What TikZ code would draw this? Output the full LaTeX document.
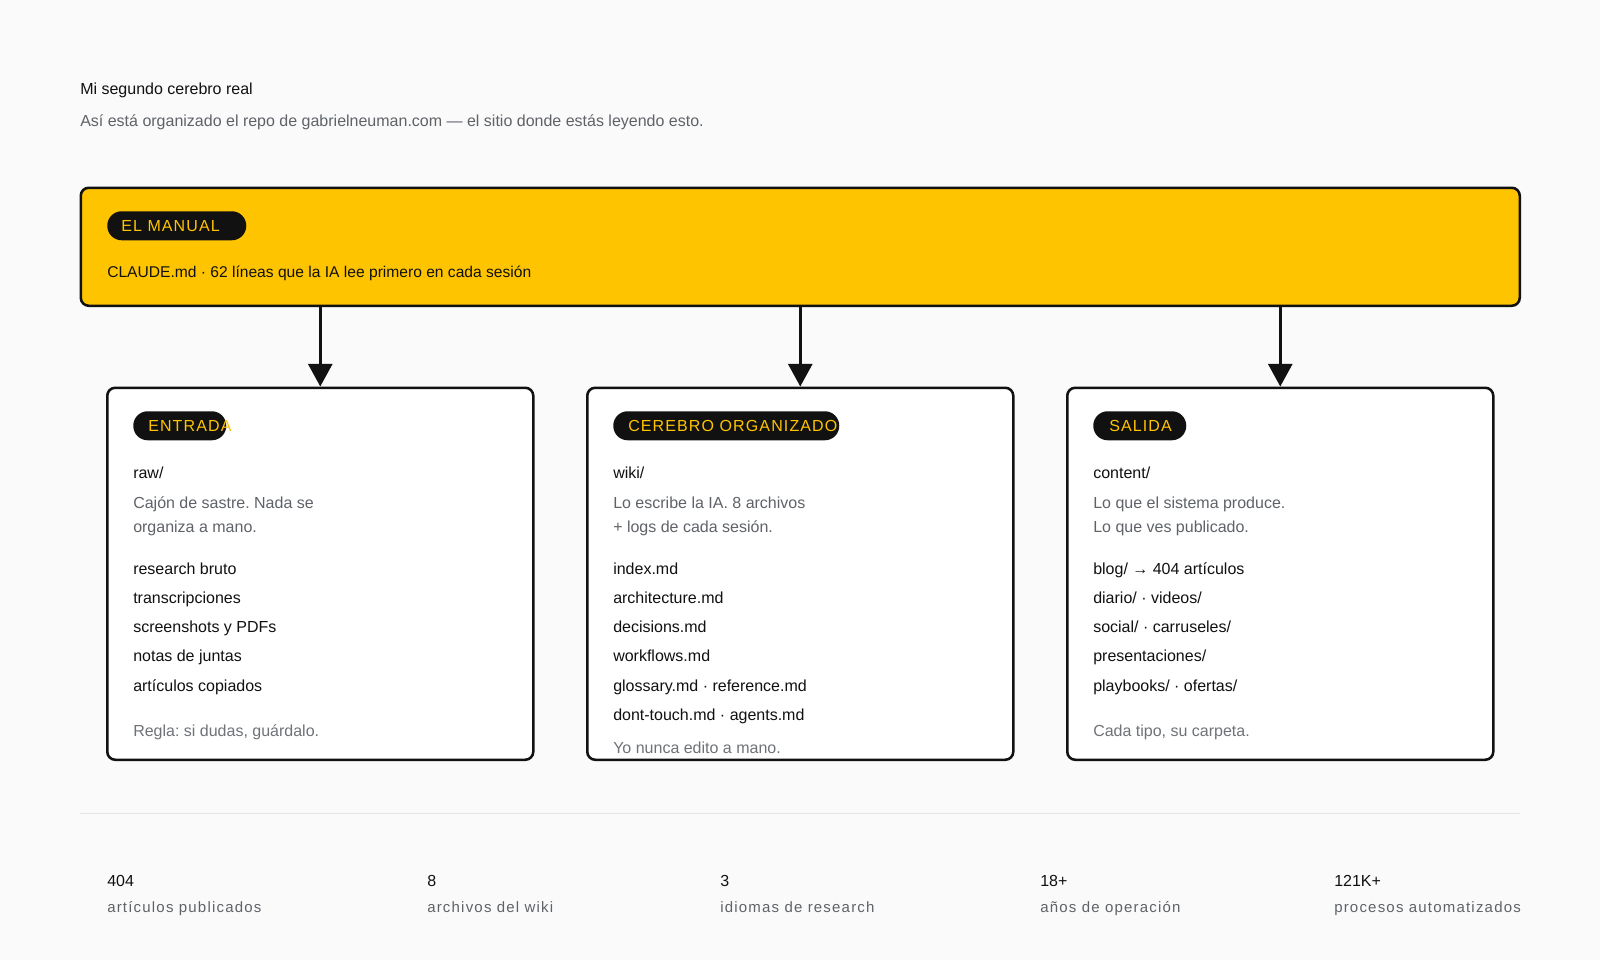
\documentclass[tikz,border=0pt]{standalone}
\usepackage{fontspec}
\setmainfont{Liberation Sans}
\usetikzlibrary{arrows.meta}
\definecolor{bg}{HTML}{FAFAFA}
\definecolor{ink}{HTML}{111111}
\definecolor{yel}{HTML}{FFC400}
\definecolor{muted}{HTML}{5F6368}
\definecolor{faint}{HTML}{6F7378}
\definecolor{rulec}{HTML}{E6E6E6}
\frenchspacing
\begin{document}
\frenchspacing
\begin{tikzpicture}[x=0.75pt,y=-0.75pt,
  txt/.style={anchor=base west, inner sep=0pt, text=ink, font=\fontsize{12}{14}\selectfont},
  desc/.style={txt, text=muted},
  note/.style={txt, text=faint},
  subt/.style={txt, text=muted, font=\fontsize{12}{14}\selectfont},
  stat/.style={txt, text=muted, font=\fontsize{11.25}{13}\selectfont\addfontfeature{LetterSpace=8}},
  pill/.style={fill=ink, draw=none, rounded corners=10.8pt, inner sep=0pt, minimum height=21.75pt, anchor=north west},
  pilltxt/.style={anchor=base west, inner sep=0pt, text=yel, font=\fontsize{12}{14}\selectfont\addfontfeature{LetterSpace=7}},
  box/.style={draw=ink, line width=1.9pt, rounded corners=6pt, fill=white, inner sep=0pt, anchor=north west, minimum width=319.5pt, minimum height=279pt},
  arr/.style={draw=ink, line width=2.25pt, -{Triangle[width=18pt,length=17pt]}}
]
\fill[bg] (0,0) rectangle (1600,960);
\useasboundingbox (0,0) rectangle (1600,960);

% header
\node[txt] (title) at (80,94) {Mi segundo cerebro real};
\node[subt] (sub) at (80,126.5) {Así está organizado el repo de gabrielneuman.com — el sitio donde estás leyendo esto.};

% top box
\node[draw=ink, line width=1.9pt, rounded corners=6pt, fill=yel, inner sep=0pt, anchor=north west, minimum width=1079.25pt, minimum height=88.5pt] (top) at (79.5,186.5) {};
\node[pill, minimum width=104.25pt] (p0) at (107,211) {};
\node[pilltxt] (p0t) at (121,231) {EL MANUAL};
\node[txt, font=\fontsize{11.7}{14}\selectfont] (claude) at (107,277) {CLAUDE.md · 62 líneas que la IA lee primero en cada sesión};

% three boxes
\node[box] (b1) at (106,386.5) {};
\node[box] (b2) at (586,386.5) {};
\node[box] (b3) at (1066,386.5) {};

\draw[arr] (top.south -| b1.north) -- (b1.north);
\draw[arr] (top.south -| b2.north) -- (b2.north);
\draw[arr] (top.south -| b3.north) -- (b3.north);

% box 1
\node[pill, minimum width=69.75pt] (p1) at (133,411) {};
\node[pilltxt] (p1t) at (148,431) {ENTRADA};
\node[txt] (r1) at (133,478) {raw/};
\node[desc] (d1a) at (133,508) {Cajón de sastre. Nada se};
\node[desc] (d1b) at (133,532) {organiza a mano.};
\node[txt] (i1a) at (133,574) {research bruto};
\node[txt] (i1b) at (133,603.3) {transcripciones};
\node[txt] (i1c) at (133,632.6) {screenshots y PDFs};
\node[txt] (i1d) at (133,661.9) {notas de juntas};
\node[txt] (i1e) at (133,691.2) {artículos copiados};
\node[note] (n1) at (133,736.7) {Regla: si dudas, guárdalo.};

% box 2
\node[pill, minimum width=169.5pt] (p2) at (613,411) {};
\node[pilltxt] (p2t) at (628,431) {CEREBRO ORGANIZADO};
\node[txt] (r2) at (613,478) {wiki/};
\node[desc] (d2a) at (613,508) {Lo escribe la IA. 8 archivos};
\node[desc] (d2b) at (613,532) {+ logs de cada sesión.};
\node[txt] (i2a) at (613,574) {index.md};
\node[txt] (i2b) at (613,603.3) {architecture.md};
\node[txt] (i2c) at (613,632.6) {decisions.md};
\node[txt] (i2d) at (613,661.9) {workflows.md};
\node[txt] (i2e) at (613,691.2) {glossary.md · reference.md};
\node[txt] (i2f) at (613,720.5) {dont-touch.md · agents.md};
\node[note] (n2) at (613,753.3) {Yo nunca edito a mano.};

% box 3
\node[pill, minimum width=69.75pt] (p3) at (1093,411) {};
\node[pilltxt] (p3t) at (1109,431) {SALIDA};
\node[txt] (r3) at (1093,478) {content/};
\node[desc] (d3a) at (1093,508) {Lo que el sistema produce.};
\node[desc] (d3b) at (1093,532) {Lo que ves publicado.};
\node[txt] (i3a) at (1093,574) {blog/ → 404 artículos};
\node[txt] (i3b) at (1093,603.3) {diario/ · videos/};
\node[txt] (i3c) at (1093,632.6) {social/ · carruseles/};
\node[txt] (i3d) at (1093,661.9) {presentaciones/};
\node[txt] (i3e) at (1093,691.2) {playbooks/ · ofertas/};
\node[note] (n3) at (1093,736.7) {Cada tipo, su carpeta.};

% separator
\coordinate (sepL) at (80,813);
\coordinate (sepR) at (1520,813);
\draw[rulec, line width=0.75pt] (sepL) -- (sepR);

% stats
\node[txt] (s1n) at (107,886.5) {404};
\node[stat] (s1l) at (107,912.5) {artículos publicados};
\node[txt] (s2n) at (427,886.5) {8};
\node[stat] (s2l) at (427,912.5) {archivos del wiki};
\node[txt] (s3n) at (720,886.5) {3};
\node[stat] (s3l) at (720,912.5) {idiomas de research};
\node[txt] (s4n) at (1040,886.5) {18+};
\node[stat] (s4l) at (1040,912.5) {años de operación};
\node[txt] (s5n) at (1334,886.5) {121K+};
\node[stat] (s5l) at (1334,912.5) {procesos automatizados};
\end{tikzpicture}
\end{document}
